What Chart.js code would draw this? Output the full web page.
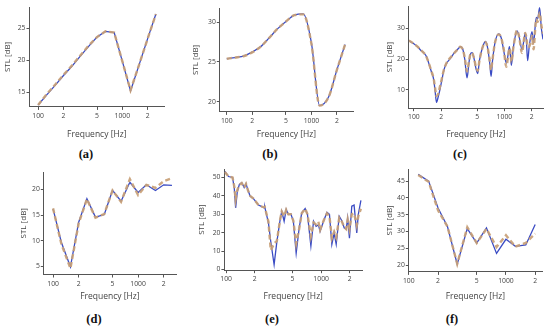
<!DOCTYPE html>
<html>
<head>
<meta charset="utf-8">
<script src="https://cdn.jsdelivr.net/npm/chart.js@4.4.1/dist/chart.umd.min.js"></script>
<style>
  html, body { margin: 0; padding: 0; background: #fff; }
  #fig { position: relative; width: 550px; height: 329px; overflow: hidden; }
  #fig canvas { position: absolute; }
  .cap { position: absolute; font: bold 12.5px "Liberation Serif", serif; color: #111; transform: translate(-50%, -50%); white-space: nowrap; }
</style>
</head>
<body>
<div id="fig"></div>
<script>
// x axis (log) ticks shared by every panel
const xTickValues = [100, 200, 500, 1000, 2000];
const xTickLabels = ["100", "2", "5", "1000", "2"];

// (a)
const freqA = [100, 125, 160, 200, 250, 315, 400, 500, 630, 800, 1000, 1250, 1600, 2000, 2500];
const blueA = [13.0, 14.5, 16.1, 17.6, 19.0, 20.6, 22.2, 23.6, 24.5, 24.3, 19.8, 15.2, 19.5, 23.4, 27.2];
const orangeA = [13.0, 14.6, 16.2, 17.7, 19.1, 20.7, 22.3, 23.6, 24.5, 24.3, 19.8, 15.3, 19.5, 23.4, 27.2];
const yTicksA = [15, 20, 25];

// (b)
const freqB = [100, 125, 160, 200, 250, 315, 400, 500, 630, 800, 1000, 1250, 1600, 2000, 2500];
const blueB = [25.4, 25.55, 25.75, 26.25, 26.9, 28.0, 29.2, 30.1, 30.9, 31.05, 27.4, 19.5, 20.6, 24.0, 27.2];
const orangeB = [25.4, 25.55, 25.75, 26.2, 26.9, 28.0, 29.2, 30.1, 30.9, 31.0, 27.3, 19.5, 20.6, 24.0, 27.2];
const yTicksB = [20, 25, 30];

// (c)
const freqC = [88, 100, 109, 120, 129, 138, 146, 156, 166, 172, 178, 186, 194, 205, 215, 230, 254, 280, 313, 325, 345, 365, 387, 405, 420, 440, 460, 485, 508, 530, 570, 617, 650, 690, 713, 740, 790, 865, 920, 980, 1052, 1100, 1136, 1165, 1194, 1260, 1381, 1450, 1568, 1630, 1700, 1750, 1806, 1880, 2019, 2103, 2180, 2254, 2330, 2450, 2560, 2670];
const blueC = [26.0, 25.0, 24.1, 22.8, 22.0, 20.8, 18.7, 16.0, 13.3, 9.5, 6.0, 7.8, 10.0, 13.5, 16.5, 18.6, 20.3, 22.0, 23.5, 24.0, 23.4, 20.0, 13.9, 18.5, 21.5, 22.1, 20.5, 17.0, 15.3, 19.5, 23.5, 25.7, 24.0, 18.5, 14.4, 19.5, 25.5, 28.2, 27.0, 23.0, 18.7, 21.5, 24.0, 21.5, 18.0, 24.0, 29.1, 27.5, 23.0, 25.5, 28.4, 26.0, 19.5, 24.0, 28.9, 25.1, 30.0, 33.5, 33.0, 36.7, 30.0, 26.4];
const orangeC = [26.0, 25.0, 24.1, 22.9, 22.0, 20.7, 18.8, 16.2, 13.5, 10.5, 8.0, 8.8, 11.0, 14.0, 16.6, 18.8, 20.5, 22.0, 23.5, 24.0, 23.3, 20.5, 16.0, 19.0, 21.5, 22.0, 20.5, 17.5, 16.2, 19.5, 23.5, 25.5, 24.0, 19.5, 16.5, 20.0, 25.5, 28.0, 27.0, 23.5, 17.5, 21.0, 23.5, 22.0, 19.0, 24.0, 29.3, 27.5, 22.0, 25.5, 28.5, 27.0, 24.0, 24.0, 27.5, 23.2, 29.0, 33.0, 32.0, 35.0, 31.0, 28.3];
const yTicksC = [10, 20, 30];

// (d)
const freqD = [100, 125, 160, 200, 250, 315, 400, 500, 630, 800, 1000, 1250, 1600, 2000, 2500];
const blueD = [16.2, 9.7, 4.9, 13.6, 18.2, 14.6, 15.1, 19.8, 17.7, 21.4, 19.4, 20.9, 19.8, 20.9, 20.8];
const orangeD = [16.3, 9.4, 4.6, 13.4, 18.1, 14.5, 15.2, 19.8, 17.6, 22.0, 18.9, 20.9, 20.3, 21.6, 22.2];
const yTicksD = [5, 10, 15, 20];

// (e)
const freqE = [97, 106, 117, 122, 126, 131, 138, 146, 155, 162, 170, 179, 194, 219, 238, 251, 255, 279, 295, 320, 342, 370, 385, 408, 429, 452, 480, 510, 546, 587, 625, 679, 718, 780, 832, 885, 935, 975, 1060, 1150, 1223, 1296, 1370, 1440, 1550, 1650, 1750, 1835, 1900, 1985, 2100, 2220, 2370, 2460, 2620];
const blueE = [53.3, 50.5, 50.0, 44.0, 33.5, 42.0, 46.3, 47.2, 44.5, 46.7, 43.0, 39.9, 38.5, 35.0, 34.2, 33.5, 34.0, 25.3, 15.2, 2.7, 15.0, 27.0, 31.6, 26.2, 32.6, 29.9, 30.2, 26.2, 8.8, 22.5, 30.8, 33.1, 29.9, 12.8, 26.2, 23.4, 24.2, 20.7, 26.2, 31.0, 29.9, 13.7, 19.8, 13.7, 28.9, 26.5, 22.5, 22.0, 28.0, 17.0, 34.4, 35.0, 19.8, 29.9, 37.5];
const orangeE = [53.0, 50.5, 50.0, 45.0, 38.0, 43.0, 46.0, 47.0, 44.5, 46.5, 43.0, 40.0, 38.5, 35.0, 34.2, 33.8, 34.0, 26.0, 10.5, 14.0, 15.5, 27.0, 31.5, 29.0, 32.5, 30.0, 30.0, 26.5, 14.0, 22.0, 30.5, 33.0, 30.0, 18.0, 25.5, 24.5, 26.0, 21.5, 26.5, 30.5, 29.0, 17.0, 20.5, 17.5, 28.0, 26.0, 23.0, 22.0, 27.0, 22.0, 30.0, 30.5, 24.0, 29.0, 33.0];
const yTicksE = [0, 10, 20, 30, 40, 50];

// (f)
const freqF = [125, 160, 200, 250, 315, 400, 500, 630, 800, 1000, 1250, 1600, 2000];
const blueF = [47.0, 45.0, 37.0, 31.5, 20.3, 30.9, 26.6, 31.1, 23.5, 27.7, 25.6, 26.0, 32.1];
const orangeF = [46.8, 44.8, 36.3, 31.5, 20.4, 31.3, 26.6, 30.8, 25.4, 28.9, 25.5, 26.6, 29.4];
const yTicksF = [20, 25, 30, 35, 40, 45];

const blueColor = "#3b4cc4";
const orangeColor = "rgba(200,160,118,0.92)";
const axisColor = "#555";
const tickFont = { family: "Open Sans", size: 6.8 };
const xTitleFont = { family: "Open Sans", size: 8.5 };
const yTitleFont = { family: "Open Sans", size: 8 };

// plot-area geometry of each panel, in page pixels
const panels = [
  { cap: "(a)", capX: 86, capY: 154, L: 29, T: 7, R: 163, B: 107, yTitleX: 7.3, xTitleY: 135, xMin: 79, xMax: 3120, yMin: 12.7, yMax: 28.3, f: freqA, blue: blueA, orange: orangeA, yTicks: yTicksA, smooth: false },
  { cap: "(b)", capX: 270, capY: 154, L: 220, T: 8, R: 353, B: 112, yTitleX: 196, xTitleY: 135, xMin: 82.7, xMax: 3100, yMin: 18.7, yMax: 31.8, f: freqB, blue: blueB, orange: orangeB, yTicks: yTicksB, smooth: true },
  { cap: "(c)", capX: 460, capY: 154, L: 408.3, T: 6, R: 542.7, B: 108.3, yTitleX: 389.3, xTitleY: 135, xMin: 88, xMax: 2670, yMin: 4.1, yMax: 37.2, f: freqC, blue: blueC, orange: orangeC, yTicks: yTicksC, smooth: true },
  { cap: "(d)", capX: 94, capY: 319, L: 43.3, T: 171.7, R: 175, B: 274.3, yTitleX: 23.3, xTitleY: 296.7, xMin: 77.8, xMax: 2790, yMin: 3.4, yMax: 23.4, f: freqD, blue: blueD, orange: orangeD, yTicks: yTicksD, smooth: false },
  { cap: "(e)", capX: 272, capY: 319, L: 224.3, T: 169, R: 362, B: 270, yTitleX: 201.7, xTitleY: 296.7, xMin: 96, xMax: 2690, yMin: -0.4, yMax: 54.6, f: freqE, blue: blueE, orange: orangeE, yTicks: yTicksE, smooth: false },
  { cap: "(f)", capX: 452, capY: 319, L: 408.3, T: 169, R: 541.7, B: 271.7, yTitleX: 389.3, xTitleY: 296.7, xMin: 100, xMax: 2350, yMin: 18.0, yMax: 48.6, f: freqF, blue: blueF, orange: orangeF, yTicks: yTicksF, smooth: false },
];

const fig = document.getElementById("fig");
const padTop = 6, padRight = 7;

panels.forEach((p) => {
  const lhY = yTitleFont.size * 1.2, lhX = xTitleFont.size * 1.2;
  const left = p.yTitleX - lhY / 2;
  const top = p.T - padTop;
  const right = p.R + padRight;
  const bottom = p.xTitleY + lhX / 2;
  const yw = p.L - left, xh = bottom - p.B;

  const canvas = document.createElement("canvas");
  canvas.width = Math.round(right - left);
  canvas.height = Math.round(bottom - top);
  canvas.style.left = left + "px";
  canvas.style.top = top + "px";
  fig.appendChild(canvas);

  const cap = document.createElement("div");
  cap.className = "cap";
  cap.textContent = p.cap;
  cap.style.left = p.capX + "px";
  cap.style.top = p.capY + "px";
  fig.appendChild(cap);

  const line = {
    tension: 0,
    cubicInterpolationMode: p.smooth ? "monotone" : "default",
    pointRadius: 0,
  };

  new Chart(canvas, {
    type: "line",
    data: {
      datasets: [
        {
          label: "measured",
          data: p.f.map((f, i) => ({ x: f, y: p.blue[i] })),
          borderColor: blueColor,
          borderWidth: 1.3,
          order: 2,
          ...line,
        },
        {
          label: "model",
          data: p.f.map((f, i) => ({ x: f, y: p.orange[i] })),
          borderColor: orangeColor,
          borderWidth: 2.4,
          borderDash: [5, 3],
          order: 1,
          ...line,
        },
      ],
    },
    options: {
      responsive: false,
      animation: false,
      devicePixelRatio: 1,
      layout: { padding: { top: padTop, right: padRight, left: 0, bottom: 0 } },
      plugins: { legend: { display: false }, tooltip: { enabled: false } },
      scales: {
        x: {
          type: "logarithmic",
          min: p.xMin,
          max: p.xMax,
          afterBuildTicks: (axis) => {
            axis.ticks = xTickValues.filter((v) => v >= axis.min && v <= axis.max).map((v) => ({ value: v }));
          },
          afterFit: (axis) => { axis.height = xh; },
          ticks: {
            autoSkip: false,
            maxRotation: 0,
            padding: 2,
            color: "#444",
            font: tickFont,
            callback: (v) => xTickLabels[xTickValues.indexOf(v)],
          },
          grid: { drawOnChartArea: false, drawTicks: true, tickLength: 3, color: axisColor },
          border: { display: true, color: axisColor, width: 1 },
          title: { display: true, text: "Frequency [Hz]", color: "#444", font: xTitleFont, padding: 0 },
        },
        y: {
          type: "linear",
          min: p.yMin,
          max: p.yMax,
          afterBuildTicks: (axis) => {
            axis.ticks = p.yTicks.map((v) => ({ value: v }));
          },
          afterFit: (axis) => { axis.width = yw; },
          ticks: { padding: 1, color: "#444", font: tickFont },
          grid: { drawOnChartArea: false, drawTicks: true, tickLength: 3, color: axisColor },
          border: { display: true, color: axisColor, width: 1 },
          title: { display: true, text: "STL [dB]", color: "#444", font: yTitleFont, padding: 0 },
        },
      },
    },
  });
});
</script>
</body>
</html>
